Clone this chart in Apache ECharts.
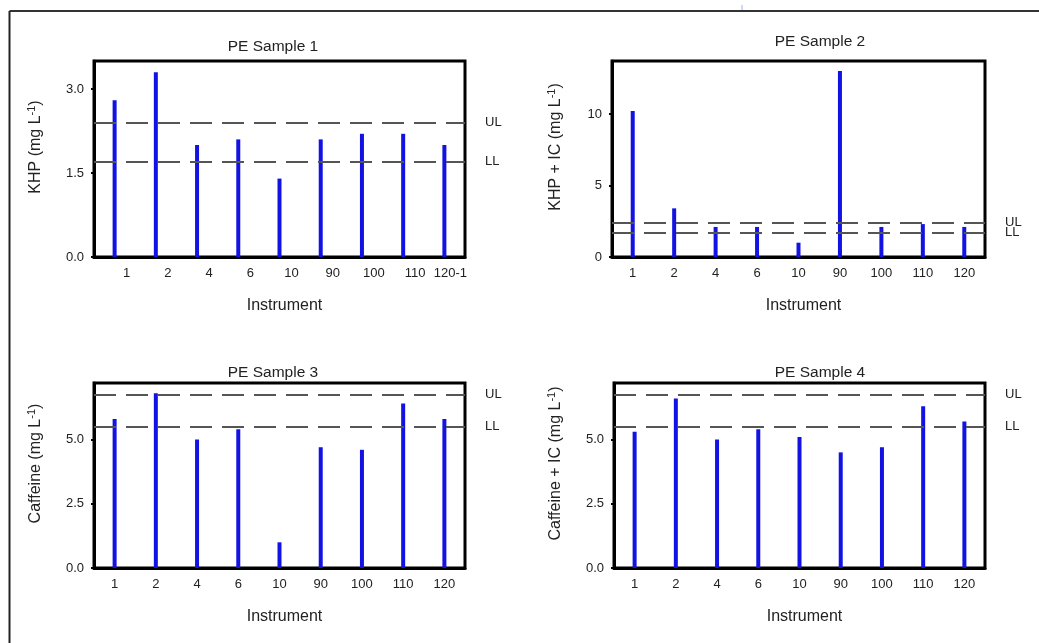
<!DOCTYPE html>
<html>
<head>
<meta charset="utf-8">
<script src="https://cdn.jsdelivr.net/npm/echarts@6/dist/echarts.min.js"></script>
<style>
  html, body { margin: 0; padding: 0; background: #fff; }
  #chart { width: 1039px; height: 643px; }
</style>
</head>
<body>
<div id="chart"></div>
<script>
// instrument categories
const instruments1 = ['1', '2', '4', '6', '10', '90', '100', '110', '120-1']
const instruments = ['1', '2', '4', '6', '10', '90', '100', '110', '120']

// measured values per PE sample (mg L-1)
const khp = [2.8, 3.3, 2.0, 2.1, 1.4, 2.1, 2.2, 2.2, 2.0]
const khpIc = [10.2, 3.4, 2.1, 2.1, 1.0, 13.0, 2.1, 2.3, 2.1]
const caffeine = [5.8, 6.8, 5.0, 5.4, 1.0, 4.7, 4.6, 6.4, 5.8]
const caffeineIc = [5.3, 6.6, 5.0, 5.4, 5.1, 4.5, 4.7, 6.3, 5.7]

// control limits
const limitsKhp = { UL: 2.4, LL: 1.7 }
const limitsCaf = { UL: 6.75, LL: 5.5 }

const titles = ['PE Sample 1', 'PE Sample 2', 'PE Sample 3', 'PE Sample 4']
const yNames = [
  'KHP (mg L{sup|-1})',
  'KHP + IC (mg L{sup|-1})',
  'Caffeine (mg L{sup|-1})',
  'Caffeine + IC (mg L{sup|-1})'
]

const font = 'Liberation Sans, Arial, sans-serif'
const txt = '#222'

const grids = [
  { left: 94, top: 61, width: 371, height: 196 },
  { left: 612, top: 61, width: 373, height: 196 },
  { left: 94, top: 383, width: 371, height: 185 },
  { left: 614, top: 383, width: 371, height: 185 }
]
const yRange = [
  { max: 3.5, interval: 1.5, dec: 1 },
  { max: 13.7, interval: 5, dec: 0 },
  { max: 7.2, interval: 2.5, dec: 1 },
  { max: 7.2, interval: 2.5, dec: 1 }
]
const titlePos = [[273, 39], [820, 34], [273, 365], [820, 365]]
const yNameGap = [48, 46, 48, 48]

const chart = echarts.init(document.getElementById('chart'))

const xAxes = grids.map((g, i) => {
  const ax = {
    type: 'category',
    gridIndex: i,
    data: i === 0 ? instruments1 : instruments,
    name: 'Instrument',
    nameLocation: 'middle',
    nameGap: 41,
    nameTextStyle: { fontFamily: font, fontSize: 16, color: txt, padding: [0, 0, 0, 10] },
    axisLine: { lineStyle: { color: '#000', width: 3 } },
    axisTick: { alignWithLabel: true, length: 3, lineStyle: { color: '#000', width: 2 } },
    axisLabel: { fontFamily: font, fontSize: 13, color: txt, margin: 10, interval: 0 },
    splitLine: { show: false }
  }
  if (i === 0) {
    // labels in the first panel sit a little right of the bars
    ax.axisLabel.formatter = v => v === '120-1' ? '{b|' + v + '}' : '{a|' + v + '}'
    ax.axisLabel.rich = {
      a: { padding: [0, 0, 0, 24], fontFamily: font, fontSize: 13, color: txt },
      b: { padding: [0, 0, 0, 12], fontFamily: font, fontSize: 13, color: txt }
    }
  }
  return ax
})

const yAxes = grids.map((g, i) => ({
  type: 'value',
  gridIndex: i,
  min: 0,
  max: yRange[i].max,
  interval: yRange[i].interval,
  name: yNames[i],
  nameLocation: 'middle',
  nameRotate: 90,
  nameGap: yNameGap[i],
  nameTextStyle: {
    fontFamily: font, fontSize: 16, color: txt, padding: [0, 0, 0, 24],
    rich: { sup: { fontSize: 11, verticalAlign: 'top', padding: [0, 0, 9, 0], fontFamily: font, color: txt } }
  },
  axisLine: { show: true, lineStyle: { color: '#000', width: 3 } },
  axisTick: { show: true, length: 3, lineStyle: { color: '#000', width: 2 } },
  axisLabel: {
    fontFamily: font, fontSize: 13, color: txt, margin: 10, showMaxLabel: false,
    formatter: v => (Math.abs(v / yRange[i].interval - Math.round(v / yRange[i].interval)) < 1e-6) ? v.toFixed(yRange[i].dec) : ''
  },
  splitLine: { show: false }
}))

function limitLine(lim) {
  return {
    silent: true,
    symbol: 'none',
    lineStyle: { color: '#555', type: [22, 10], width: 2 },
    label: { position: 'end', formatter: '{b}', fontFamily: font, fontSize: 13, color: txt, distance: 20 },
    data: [
      { name: 'UL', yAxis: lim.UL },
      { name: 'LL', yAxis: lim.LL }
    ]
  }
}

const seriesData = [khp, khpIc, caffeine, caffeineIc]
const limits = [limitsKhp, limitsKhp, limitsCaf, limitsCaf]

const series = seriesData.map((d, i) => ({
  type: 'bar',
  name: titles[i],
  xAxisIndex: i,
  yAxisIndex: i,
  data: d,
  barWidth: 4,
  itemStyle: { color: '#1212e2' },
  markLine: limitLine(limits[i])
}))

chart.setOption({
  animation: false,
  backgroundColor: '#fff',
  title: titles.map((t, i) => ({
    text: t,
    left: titlePos[i][0],
    top: titlePos[i][1],
    padding: 0,
    textAlign: 'center',
    textStyle: { fontFamily: font, fontSize: 15.5, fontWeight: 'normal', color: txt }
  })),
  grid: grids.map(g => Object.assign({ show: true, borderColor: '#000', borderWidth: 3, backgroundColor: 'transparent' }, g)),
  xAxis: xAxes,
  yAxis: yAxes,
  series: series,
  graphic: [
    { type: 'line', shape: { x1: 9.5, y1: 11, x2: 1039, y2: 11 }, style: { stroke: '#333', lineWidth: 2 } },
    { type: 'line', shape: { x1: 9.5, y1: 11, x2: 9.5, y2: 643 }, style: { stroke: '#222', lineWidth: 2 } },
    { type: 'rect', shape: { x: 741, y: 5, width: 2, height: 5 }, style: { fill: '#c8d8ff' } }
  ]
})
</script>
</body>
</html>
